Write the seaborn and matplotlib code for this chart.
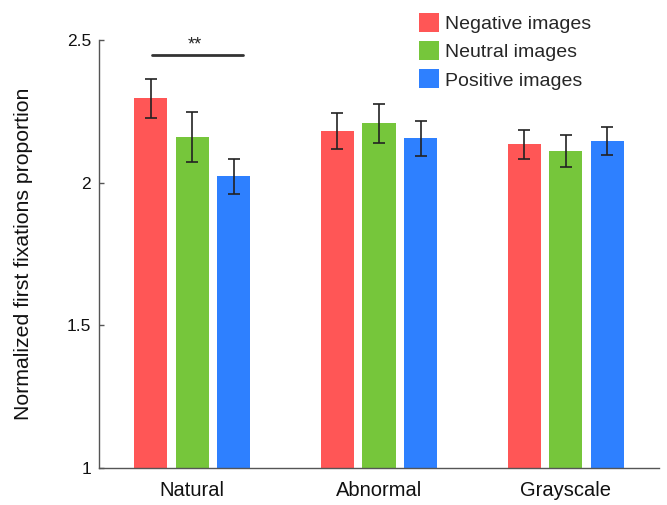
import matplotlib
matplotlib.use("Agg")
import matplotlib.pyplot as plt
import seaborn as sns
import pandas as pd
import numpy as np

categories = ["Natural", "Abnormal", "Grayscale"]
series = ["Negative images", "Neutral images", "Positive images"]
negative = [2.296, 2.181, 2.134]
neutral = [2.160, 2.208, 2.110]
positive = [2.022, 2.155, 2.146]
negative_err = [0.069, 0.064, 0.050]
neutral_err = [0.087, 0.068, 0.056]
positive_err = [0.060, 0.061, 0.049]
colors = ["#FF5656", "#76C63B", "#2E80FF"]
yticks = [1, 1.5, 2, 2.5]
yticklabels = ["1", "1.5", "2", "2.5"]

means = [negative, neutral, positive]
errs = [negative_err, neutral_err, positive_err]
rows = []
for s, vals, es in zip(series, means, errs):
    for c, v, e in zip(categories, vals, es):
        rows.append({"Condition": c, "Valence": s, "Value": v, "Err": e})
df = pd.DataFrame(rows)

sns.set_style("white")
plt.rcParams["font.family"] = ["Liberation Sans", "DejaVu Sans"]

fig = plt.figure(figsize=(6.67, 5.05), dpi=100)
ax = fig.add_axes([99/667, 1-468/505, 560/667, 428/505])

sns.barplot(data=df, x="Condition", y="Value", hue="Valence", order=categories,
            hue_order=series, palette=colors, saturation=1, errorbar=None,
            width=0.667, gap=0.2, linewidth=0, ax=ax)

for cont, s in zip(ax.containers, series):
    sub = df[df["Valence"] == s].set_index("Condition").loc[categories]
    xs = [p.get_x() + p.get_width()/2 for p in cont.patches]
    ax.errorbar(xs, sub["Value"].values, yerr=sub["Err"].values, fmt="none",
                ecolor="#222222", elinewidth=1.2, capsize=4, capthick=1.2, zorder=5)

ax.set_ylim(1, 2.5)
ax.set_xlim(-0.5, 2.5)
ax.set_yticks(yticks)
ax.set_yticklabels(yticklabels)
ax.tick_params(axis="y", direction="in", length=3.6, width=1, color="#555555",
               labelsize=12.5, pad=5.8, left=True, labelcolor="#111111")
ax.tick_params(axis="x", length=0, labelsize=14.5, pad=9, labelcolor="#111111")
for side in ["top", "right"]:
    ax.spines[side].set_visible(False)
for side in ["left", "bottom"]:
    ax.spines[side].set_color("#555555")
    ax.spines[side].set_linewidth(1)
ax.set_xlabel("")
ax.set_ylabel("Normalized first fixations proportion", fontsize=15.3, color="#111111")
ax.yaxis.set_label_coords(-0.118, 0.5)

# significance marker
ax.plot([-0.217, 0.271], [2.449, 2.449], color="#333333", lw=2, clip_on=False)
ax.text(0.013, 2.466, "**", ha="center", va="baseline", fontsize=13, clip_on=False)

handles, labels = ax.get_legend_handles_labels()
ax.legend(handles, labels, loc="upper left", bbox_to_anchor=(419/667, 1-13/505),
          bbox_transform=fig.transFigure, frameon=False, fontsize=14,
          borderpad=0, borderaxespad=0, handlelength=1.03, handleheight=1.12,
          handletextpad=0.33, labelspacing=0.42)

fig.savefig("out.png", dpi=100)
